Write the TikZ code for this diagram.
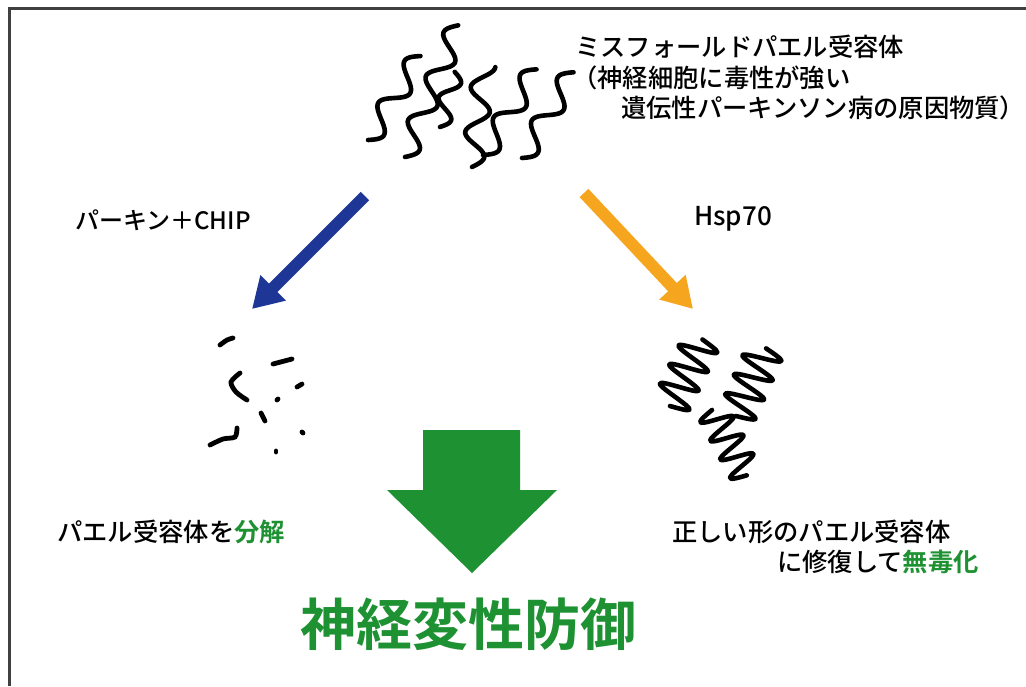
\documentclass[tikz,border=0pt]{standalone}
\usepackage{fontspec}
\newfontfamily\jpfont{Noto Sans CJK JP Medium}[BoldFont={Noto Sans CJK JP Bold}]
\usetikzlibrary{arrows.meta}

\definecolor{protgreen}{RGB}{30,145,50}
\definecolor{chipblue}{RGB}{30,55,150}
\definecolor{hsporange}{RGB}{245,165,30}

\tikzset{
  lbl/.style={font=\jpfont\fontsize{25.3}{30}\selectfont, inner sep=0pt, anchor=west},
  squig/.style={line width=4.6pt, line cap=round, line join=round},
  piece/.style={line width=4.8pt, line cap=round},
  pathway/.style={line width=12pt, -{Triangle[width=34pt,length=30pt]}},
}

% wavy strand: x, y, angle, length, amplitude, periods
\newcommand{\strand}[6]{%
  \draw[squig, shift={(#1,#2)}, rotate=#3]
    plot[smooth, domain=0:#4, samples=60, variable=\t] (\t, {#5*sin(\t/#4*#6*360)});}

\begin{document}
\begin{tikzpicture}[x=1pt,y=-1pt]
          \useasboundingbox (0,0) rectangle (1026,686);
          \fill[white] (0,0) rectangle (1026,686);
          \draw[line width=3pt, black!75] (9,686) -- (9,8) -- (1026,8);

          % misfolded receptor
          \strand{368}{140}{58}{99}{11}{2}
          \strand{405}{157}{68}{142}{11}{3}
          \strand{440}{127}{75}{57}{9}{1.5}
          \strand{472}{167}{83}{102}{11}{2.25}
          \strand{483}{155}{58}{101}{11}{2}
          \strand{522}{158}{59}{100}{11}{2}

          \node[lbl] (misA) at (575,47) {ミスフォールドパエル受容体};
          \node[lbl] (misB) at (572,78) {（神経細胞に毒性が強い};
          \node[lbl] (misC) at (621,108) {遺伝性パーキンソン病の原因物質）};

          % pathways
          \coordinate (chipFrom) at (365,196);
          \coordinate (chipTo) at (252,309);
          \coordinate (hspFrom) at (584,193);
          \coordinate (hspTo) at (693,309);
          \draw[pathway, chipblue] (chipFrom) -- (chipTo);
          \draw[pathway, hsporange] (hspFrom) -- (hspTo);

          \node[lbl, font=\jpfont\fontsize{24}{28}\selectfont] (chip) at (75,220) {パーキン＋CHIP};
          \node[lbl, font=\jpfont\fontsize{26}{30}\selectfont] (hsp) at (694,219) {Hsp70};

          % degraded pieces
          \draw[piece] plot[smooth] coordinates {(220,345) (227,340) (233,338)};
          \draw[piece] (273,364) -- (292,359);
          \draw[piece] plot[smooth] coordinates {(240,373) (231,382) (236,392) (247,400)};
          \draw[piece] (297,387) -- (302,384);
          \draw[piece] (277,400) -- (278,399);
          \draw[piece] (261,413) -- (265,421);
          \draw[piece] plot[smooth] coordinates {(210,445) (223,439) (235,437) (237,428)};
          \draw[piece] (302,432) -- (303,433);
          \draw[piece] (276,451) -- (276,452);

          % refolded receptor
          \strand{670}{406}{64}{74}{19}{3.5}
          \strand{736}{416}{66}{74}{19}{3.5}
          \strand{712}{410}{-62}{74}{16}{3.5}

          \node[lbl] (split) at (57,532) {パエル受容体を\textcolor{protgreen}{\bfseries 分解}};
          \node[lbl] (fixA) at (672,532) {正しい形のパエル受容体};
          \node[lbl] (fixB) at (777,562) {に修復して\textcolor{protgreen}{\bfseries 無毒化}};

          % protection
          \fill[protgreen] (423,430) -- (520,430) -- (520,490) -- (557,490)
            -- (472,573) -- (387,490) -- (423,490) -- cycle;
          \node[font=\jpfont\bfseries\fontsize{56}{60}\selectfont, text=protgreen, inner sep=0pt]
            (protect) at (468,624) {神経変性防御};
\end{tikzpicture}
\end{document}
